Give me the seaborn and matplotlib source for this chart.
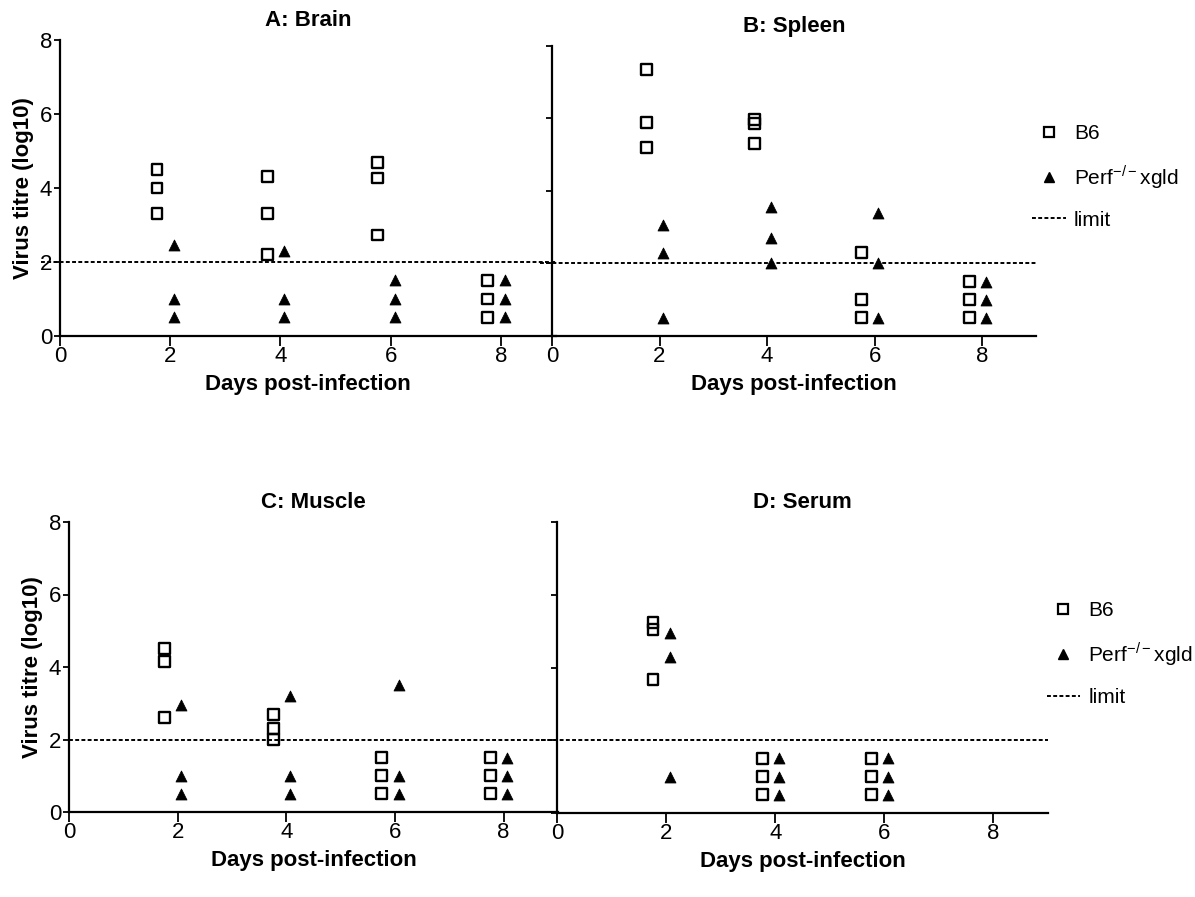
import numpy as np
import pandas as pd
import seaborn as sns
import matplotlib
matplotlib.use("Agg")
import matplotlib.pyplot as plt
from matplotlib.lines import Line2D

# ---- data: virus titre (log10) per mouse, grouped by day ----
days = [2, 4, 6, 8]
groups = ["B6", "Perf"]
group_labels = ["B6", "Perf$^{\\mathregular{-/-}}$xgld"]
limit = 2.0

brain_b6 = [[4.5, 4.0, 3.3], [4.3, 3.3, 2.2], [4.7, 4.27, 2.73], [1.5, 1.0, 0.5]]
brain_perf = [[2.45, 1.0, 0.5], [2.3, 1.0, 0.5], [1.5, 1.0, 0.5], [1.5, 1.0, 0.5]]

spleen_b6 = [[7.35, 5.9, 5.2], [5.97, 5.85, 5.3], [2.3, 1.0, 0.5], [1.5, 1.0, 0.5]]
spleen_perf = [[3.05, 2.3, 0.5], [3.55, 2.7, 2.0], [3.4, 2.0, 0.5], [1.5, 1.0, 0.5]]

muscle_b6 = [[4.5, 4.15, 2.6], [2.7, 2.3, 2.0], [1.5, 1.0, 0.5], [1.5, 1.0, 0.5]]
muscle_perf = [[2.95, 1.0, 0.5], [3.2, 1.0, 0.5], [3.5, 1.0, 0.5], [1.5, 1.0, 0.5]]

serum_b6 = [[5.23, 5.05, 3.68], [1.5, 1.0, 0.5], [1.5, 1.0, 0.5], []]
serum_perf = [[4.94, 4.28, 1.0], [1.5, 1.0, 0.5], [1.5, 1.0, 0.5], []]

panel_titles = ["A: Brain", "B: Spleen", "C: Muscle", "D: Serum"]
panel_data = [(brain_b6, brain_perf), (spleen_b6, spleen_perf),
              (muscle_b6, muscle_perf), (serum_b6, serum_perf)]
xticks = [0, 2, 4, 6, 8]
yticks = [0, 2, 4, 6, 8]

# ---- style ----
sns.set_theme(style="ticks")
plt.rcParams["font.family"] = ["Liberation Sans", "DejaVu Sans"]
plt.rcParams["mathtext.fontset"] = "custom"
plt.rcParams["mathtext.rm"] = "Liberation Sans"
for key in ("text.color", "axes.labelcolor", "xtick.color", "ytick.color",
            "axes.edgecolor"):
    plt.rcParams[key] = "black"

group_offset = {"B6": -0.24, "Perf": 0.07}
dotted = (0, (2.0, 1.2))


def to_frame(b6, perf):
    rows = []
    for g, series in zip(groups, (b6, perf)):
        for d, vals in zip(days, series):
            for v in vals:
                rows.append({"day": d, "group": g, "titre": v})
    df = pd.DataFrame(rows, columns=["day", "group", "titre"])
    df["xpos"] = df["day"] + df["group"].map(group_offset)
    return df


fig = plt.figure(figsize=(11.95, 8.97), dpi=100)
W, H = 1195.0, 897.0
# axes boxes in pixels: (x at 0, x at 9, y at 8 (top), y at 0 (bottom))
boxes = [(60, 556, 40, 336), (552, 1036, 46, 336),
         (69, 558, 522, 812), (557, 1048, 522, 813)]
limit_start = [-0.35, -0.22, 0.0, -0.3]
legend_anchor = {1: (0.975, 0.759), 3: (0.98, 0.756)}

for i, (x0, x1, yt, yb) in enumerate(boxes):
    ax = fig.add_axes([x0 / W, 1 - yb / H, (x1 - x0) / W, (yb - yt) / H])
    ax.patch.set_alpha(0)
    b6, perf = panel_data[i]
    df = to_frame(b6, perf)

    sns.scatterplot(data=df[df["group"] == "B6"], x="xpos", y="titre", ax=ax,
                    marker="s", s=62, color="black", linewidth=1.7,
                    edgecolor="black", clip_on=False, zorder=3)
    ax.collections[-1].set_facecolor("none")
    sns.scatterplot(data=df[df["group"] == "Perf"], x="xpos", y="titre", ax=ax,
                    marker="^", s=62, color="black", linewidth=0.6,
                    edgecolor="black", clip_on=False, zorder=3)

    ax.plot([limit_start[i], 9.0], [limit, limit], color="black", lw=1.4,
            linestyle=dotted, clip_on=False, zorder=2)

    ax.set_xlim(0, 9)
    ax.set_ylim(0, 8)
    ax.set_xticks(xticks)
    ax.set_yticks(yticks)
    sns.despine(ax=ax)
    for side in ("left", "bottom"):
        ax.spines[side].set_linewidth(1.6)
    ax.tick_params(axis="x", length=7, width=1.3, labelsize=16, pad=0.5)
    ax.tick_params(axis="y", length=4.5, width=1.3, labelsize=16, pad=1)
    ax.set_title(panel_titles[i], fontsize=16, fontweight="bold", pad=10)
    ax.set_xlabel("Days post-infection", fontsize=16, fontweight="bold",
                  labelpad=5)
    if i % 2 == 0:
        ax.set_ylabel("Virus titre (log10)", fontsize=16, fontweight="bold",
                      labelpad=4)
    else:
        ax.set_ylabel("")
        ax.set_yticklabels([])

    if i in legend_anchor:
        handles = [
            Line2D([], [], marker="s", linestyle="none", markersize=7.5,
                   markerfacecolor="none", markeredgecolor="black",
                   markeredgewidth=1.6),
            Line2D([], [], marker="^", linestyle="none", markersize=7.5,
                   markerfacecolor="black", markeredgecolor="black"),
            Line2D([], [], color="black", lw=1.4, linestyle=dotted),
        ]
        ax.legend(handles, group_labels + ["limit"],
                  loc="upper left", bbox_to_anchor=legend_anchor[i],
                  frameon=False, prop={"size": 15},
                  handlelength=1.6, handletextpad=0.4, labelspacing=0.95,
                  borderaxespad=0.0)

fig.savefig("out.png", dpi=100, facecolor="white")
